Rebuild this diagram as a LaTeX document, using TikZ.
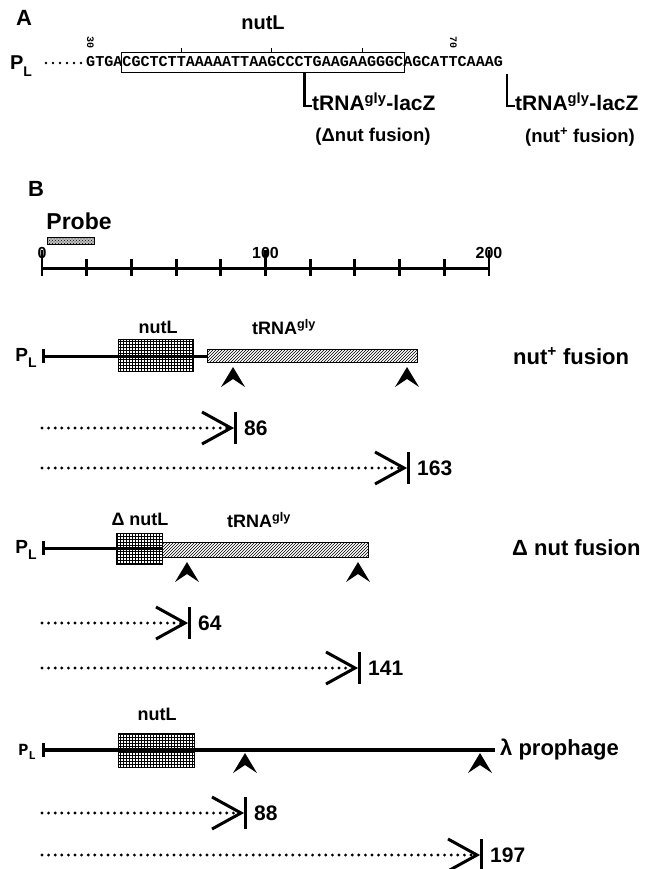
\documentclass[tikz,border=0pt]{standalone}
\usepackage{fontspec}
\setmainfont{Liberation Sans}
\newfontfamily\seqfont{Liberation Mono}
\usetikzlibrary{patterns}
\newcommand\promoterPL{P\raisebox{-0.32em}{\fontsize{14}{14}\selectfont L}}
\tikzset{
  lacz/.style={inner sep=0pt, anchor=base west, font=\bfseries\fontsize{21}{21}\selectfont},
  fus/.style={inner sep=0pt, font=\bfseries\fontsize{18.5}{18.5}\selectfont},
  num/.style={inner sep=0pt, anchor=west, font=\bfseries\fontsize{21}{21}\selectfont},
  sml/.style={inner sep=0pt, font=\bfseries\fontsize{18}{18}\selectfont},
  side/.style={inner sep=0pt, anchor=west, font=\bfseries\fontsize{22}{22}\selectfont},
  panel/.style={inner sep=0pt, font=\bfseries\fontsize{22}{22}\selectfont},
  seqtext/.style={inner sep=0pt, font=\seqfont\bfseries\fontsize{15.1}{15}\selectfont},
  postext/.style={inner sep=0pt, rotate=-90, font=\seqfont\bfseries\fontsize{10}{10}\selectfont},
  dotline/.style={line width=3.2pt, line cap=round, dash pattern=on 0pt off 6.6pt},
  rowline/.style={line width=3pt},
  bracket/.style={line width=2.4pt},
  gridbox/.style={draw, line width=0.8pt, pattern=grid},
  hatchbox/.style={draw, line width=0.8pt, pattern=north east lines},
  probebar/.style={draw, line width=0.8pt, fill=black!25, postaction={pattern=crosshatch dots}},
  cutsite/.pic={\fill (0,0) -- (12,20) -- (0,12) -- (-12,20) -- cycle;},
  stopmark/.pic={\draw[line width=3pt] (-29,-16) -- (0,0) -- (-29,16);
                 \draw[line width=3pt] (4,-16) -- (4,16);}
}
\begin{document}
\begin{tikzpicture}[x=1pt,y=-1pt]
\useasboundingbox (0,0) rectangle (659,869);
\fill[white] (0,0) rectangle (659,869);

% ---------------- panel A: sequence around nutL ----------------
\node[panel] (labA) at (24,18) {A};
\node[inner sep=0pt, font=\bfseries\fontsize{20}{20}\selectfont] (nutA) at (263,23) {nutL};
\node[inner sep=0pt, font=\bfseries\fontsize{20}{20}\selectfont] (plA) at (21,66) {\promoterPL};
\coordinate (dotsA1) at (46,63);
\coordinate (dotsA2) at (82,63);
\draw[dotline, line width=2.8pt, dash pattern=on 0pt off 7pt] (dotsA1) -- (dotsA2);
\node[seqtext, anchor=base west] (seq) at (86,67)
  {GTGACGCTCTTAAAAATTAAGCCCTGAAGAAGGGCAGCATTCAAAG};
% boxed nutL stretch (characters 5 to 35)
\draw[line width=0.8pt] (121.5,52) rectangle (404,72);
\foreach \tx in {181.2,271.9,362.6}
  \draw[line width=1pt] (\tx,52) -- (\tx,48);
\node[postext] (p30) at (90.5,43) {30};
\node[postext] (p70) at (453.3,43) {70};
% fusion junctions
\coordinate (dj1) at (304.5,72);
\coordinate (dc1) at (304.5,106);
\coordinate (dh1) at (312,106);
\draw[bracket] (dj1) -- (dc1) -- (dh1);
\node[lacz] (lacz1) at (312,111) {tRNA\textsuperscript{gly}-lacZ};
\coordinate (dj2) at (507,74);
\coordinate (dc2) at (507,106);
\coordinate (dh2) at (515,106);
\draw[bracket] (dj2) -- (dc2) -- (dh2);
\node[lacz] (lacz2) at (515,111) {tRNA\textsuperscript{gly}-lacZ};
\node[fus] (fusA1) at (373,137) {(Δnut fusion)};
\node[fus] (fusA2) at (580,137) {(nut\textsuperscript{+} fusion)};

% ---------------- panel B: probe and scale ----------------
\node[panel] (labB) at (36,189) {B};
\node[inner sep=0pt, font=\bfseries\fontsize{23}{23}\selectfont] (probe) at (79,221) {Probe};
\draw[probebar] (47,237) rectangle (94,244);
\coordinate (sc0) at (42,268);
\coordinate (sc200) at (489,268);
\draw[rowline] (sc0) -- (sc200);
\foreach \i in {1,2,3,4,6,7,8,9}
  \draw[rowline] ({42+\i*44.7},259) -- ({42+\i*44.7},276);
\foreach \i in {0,5,10}
  \draw[line width=2.5pt] ({42+\i*44.7},250) -- ({42+\i*44.7},276);
\node[inner sep=0pt, anchor=base, font=\bfseries\fontsize{16}{16}\selectfont] (t0) at (42,258) {0};
\node[inner sep=0pt, anchor=base, font=\bfseries\fontsize{16}{16}\selectfont] (t100) at (265.5,258) {100};
\node[inner sep=0pt, anchor=base, font=\bfseries\fontsize{16}{16}\selectfont] (t200) at (489,258) {200};

% ---------------- nut+ fusion ----------------
\draw[gridbox] (118,339) rectangle (193,371);
\draw[hatchbox] (207,349) rectangle (417,362);
\coordinate (r1s) at (43,356);
\coordinate (r1e) at (207,356);
\draw[rowline] (r1s) -- (r1e);
\draw[rowline] (43,349) -- (43,363);
\node[inner sep=0pt, font=\bfseries\fontsize{19}{19}\selectfont] (pl1) at (26,358) {\promoterPL};
\node[sml] (nut1) at (158,327) {nutL};
\node[sml] (trna1) at (284,327) {tRNA\textsuperscript{gly}};
\pic (c11) at (233,367) {cutsite};
\pic (c12) at (407,367) {cutsite};
\node[side] (f1) at (513,356) {nut\textsuperscript{+} fusion};

% ---------------- delta nut fusion ----------------
\draw[gridbox] (116,533) rectangle (162,564);
\draw[hatchbox] (162,542) rectangle (368,557);
\coordinate (r2s) at (43,548);
\coordinate (r2e) at (162,548);
\draw[rowline] (r2s) -- (r2e);
\draw[rowline] (43,541) -- (43,555);
\node[inner sep=0pt, font=\bfseries\fontsize{19}{19}\selectfont] (pl2) at (26,550) {\promoterPL};
\node[sml] (nut2) at (140,519) {Δ nutL};
\node[sml] (trna2) at (259,520) {tRNA\textsuperscript{gly}};
\pic (c21) at (187,562) {cutsite};
\pic (c22) at (358,562) {cutsite};
\node[side] (f2) at (512,548) {Δ nut fusion};

% ---------------- lambda prophage ----------------
\draw[gridbox] (118,733) rectangle (194,767);
\coordinate (r3s) at (43,750);
\coordinate (r3e) at (495,750);
\draw[line width=4pt] (r3s) -- (r3e);
\draw[rowline] (43,743) -- (43,757);
\node[inner sep=0pt, font=\seqfont\bfseries\fontsize{17}{17}\selectfont] (pl3) at (27,752)
  {P\raisebox{-0.25em}{\fontsize{12}{12}\selectfont L}};
\node[sml] (nut3) at (157,714) {nutL};
\pic (c31) at (245,753) {cutsite};
\pic (c32) at (480,753) {cutsite};
\node[side] (f3) at (500,750) {λ prophage};

% ---------------- transcripts with their 3' ends ----------------
\foreach \nm/\yy/\tip/\txt in {a/428/231/86, b/468/404/163, c/623/185/64,
                                d/668/355/141, e/813/241/88, f/855/477/197}{
  \coordinate (s\nm) at (42,\yy);
  \coordinate (e\nm) at (\tip-3,\yy);
  \draw[dotline] (s\nm) -- (e\nm);
  \pic (m\nm) at (\tip,\yy) {stopmark};
  \node[num] (n\nm) at (\tip+13,\yy) {\txt};
}
\end{tikzpicture}
\end{document}
